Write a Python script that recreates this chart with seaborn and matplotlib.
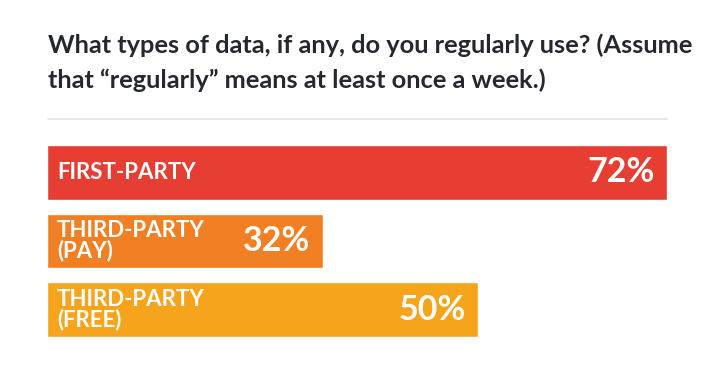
import pandas as pd
import numpy as np
import matplotlib.pyplot as plt
import seaborn as sns

# Data
categories = ['FIRST-PARTY', 'THIRD-PARTY\n(PAY)', 'THIRD-PARTY\n(FREE)']
shares = [72, 32, 50]
bar_colors = ['#E63E32', '#F08023', '#F6A41C']

title = 'What types of data, if any, do you regularly use? (Assume\nthat \u201cregularly\u201d means at least once a week.)'

df = pd.DataFrame({'category': categories, 'share': shares})

sns.set_style('white')
plt.rcParams['font.family'] = ['Lato', 'DejaVu Sans']

W, H = 728, 377
fig = plt.figure(figsize=(W / 100, H / 100), dpi=100)
ax = fig.add_axes([47 / W, (H - 337) / H, 620 / W, 192 / H])

sns.barplot(data=df, x='share', y='category', hue='category',
            palette=bar_colors, saturation=1, orient='h', width=0.8,
            legend=False, ax=ax)
ax.set_xlim(0, 72)
ax.set_ylim(2.4, -0.4)
ax.axis('off')

# Labels inside bars
for bar, cat, val in zip(ax.patches, categories, shares):
    yc = bar.get_y() + bar.get_height() / 2
    ax.annotate(cat, xy=(0, yc), xytext=(10, 0), textcoords='offset pixels',
                ha='left', va='center', color='white', fontsize=16,
                fontweight='bold', linespacing=0.92)
    ax.annotate(f'{val}%', xy=(val, yc), xytext=(-12, 0), textcoords='offset pixels',
                ha='right', va='center', color='white', fontsize=24.5,
                fontweight='bold')

# Title and separator
fig.text(48 / W, 1 - 33 / H, title, ha='left', va='top', fontsize=18.3,
         fontweight='bold', color='#262830', linespacing=1.63,
         transform=fig.transFigure)
fig.add_artist(plt.Line2D([48 / W, 667 / W], [1 - 119 / H, 1 - 119 / H],
                          color='#E3E3E3', lw=1.2, transform=fig.transFigure))

fig.savefig('out.png', dpi=100, facecolor='white')
